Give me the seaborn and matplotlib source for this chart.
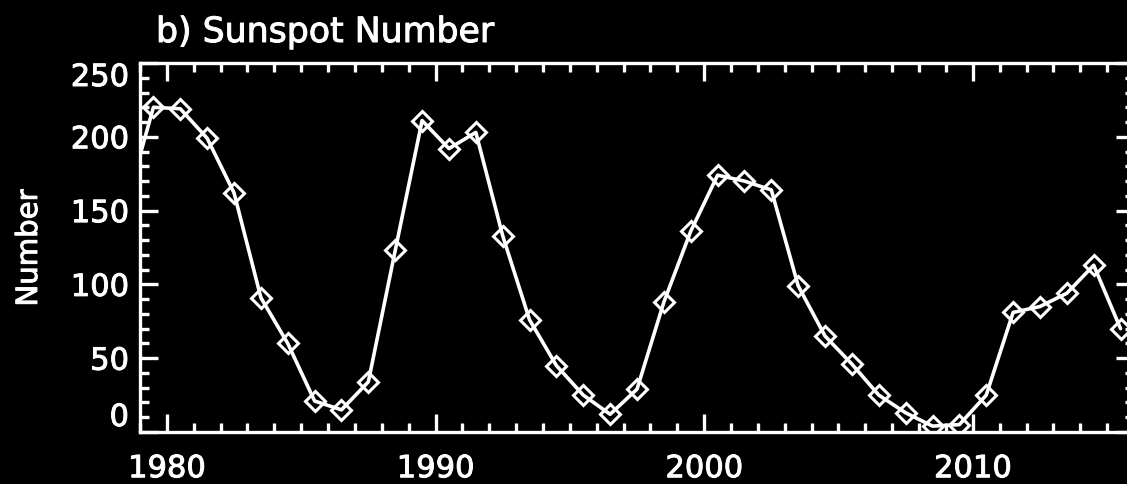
import matplotlib
matplotlib.use("Agg")
import matplotlib.pyplot as plt
import matplotlib.patheffects as pe
import seaborn as sns
import pandas as pd
from matplotlib.ticker import MultipleLocator, FixedLocator

# Yearly mean sunspot number, plotted at mid-year
years = [1978, 1979, 1980, 1981, 1982, 1983, 1984, 1985, 1986, 1987,
         1988, 1989, 1990, 1991, 1992, 1993, 1994, 1995, 1996, 1997,
         1998, 1999, 2000, 2001, 2002, 2003, 2004, 2005, 2006, 2007,
         2008, 2009, 2010, 2011, 2012, 2013, 2014, 2015]
sunspot_number = [155, 220, 219, 199, 162, 91, 60, 21, 15, 34,
                  123, 211, 192, 203, 133, 76, 45, 25, 12, 29,
                  88, 136, 174, 170, 164, 99, 65, 46, 25, 13,
                  4, 5, 25, 81, 85, 94, 113, 70]
x_ticks = [1980, 1990, 2000, 2010]
y_ticks = [0, 50, 100, 150, 200, 250]
title = "b) Sunspot Number"
y_label = "Number"

df = pd.DataFrame({"year": [y + 0.5 for y in years], "number": sunspot_number})

sns.set_style("ticks")
plt.rcParams.update({
    "figure.facecolor": "black",
    "axes.facecolor": "black",
    "savefig.facecolor": "black",
    "axes.edgecolor": "white",
    "text.color": "white",
    "xtick.color": "white",
    "ytick.color": "white",
    "axes.labelcolor": "white",
    "axes.linewidth": 2.4,
})
plt.rcParams["font.family"] = ["DejaVu Sans"]

# slightly heavier glyphs
heavy = [pe.withStroke(linewidth=0.7, foreground="white")]

W, H = 1127, 484
fig = plt.figure(figsize=(W / 100, H / 100), dpi=100)
ax = fig.add_axes([140 / W, 52 / H, 994 / W, 369 / H])

sns.lineplot(data=df, x="year", y="number", ax=ax, color="white",
             linewidth=2.6, marker="D", markersize=10,
             markerfacecolor="none", markeredgecolor="white",
             markeredgewidth=2.2)

ax.set_xlim(1979, 2016)
ax.set_ylim(0, 250)
ax.set_xlabel("")
ax.set_ylabel("")

ax.xaxis.set_major_locator(FixedLocator(x_ticks))
ax.xaxis.set_minor_locator(MultipleLocator(1))
ax.yaxis.set_major_locator(FixedLocator(y_ticks))
ax.yaxis.set_minor_locator(MultipleLocator(10))
ax.set_xticklabels([str(t) for t in x_ticks])
ax.set_yticklabels([str(t) for t in y_ticks])

ax.tick_params(which="both", direction="in", top=True, right=True,
               color="white", width=2.4)
ax.tick_params(which="major", length=13, labelsize=22)
ax.tick_params(which="minor", length=6.5)
ax.tick_params(axis="x", which="major", pad=16)
ax.tick_params(axis="y", which="major", pad=8)

for sp in ax.spines.values():
    sp.set_color("white")
    sp.set_linewidth(2.4)

# keep the end labels of the y axis inside the frame
yt = ax.yaxis.get_major_ticks()
yt[0].label1.set_va("bottom")
yt[-1].label1.set_va("top")

for lbl in ax.get_xticklabels() + ax.get_yticklabels():
    lbl.set_path_effects(heavy)

fig.text(156 / W, 1 - 42 / H, title, ha="left", va="baseline", fontsize=25,
         path_effects=heavy)
fig.text(29 / W, 1 - 248 / H, y_label, ha="center", va="center",
         rotation=90, fontsize=21, path_effects=heavy)

fig.savefig("out.png", dpi=100, facecolor="black")
